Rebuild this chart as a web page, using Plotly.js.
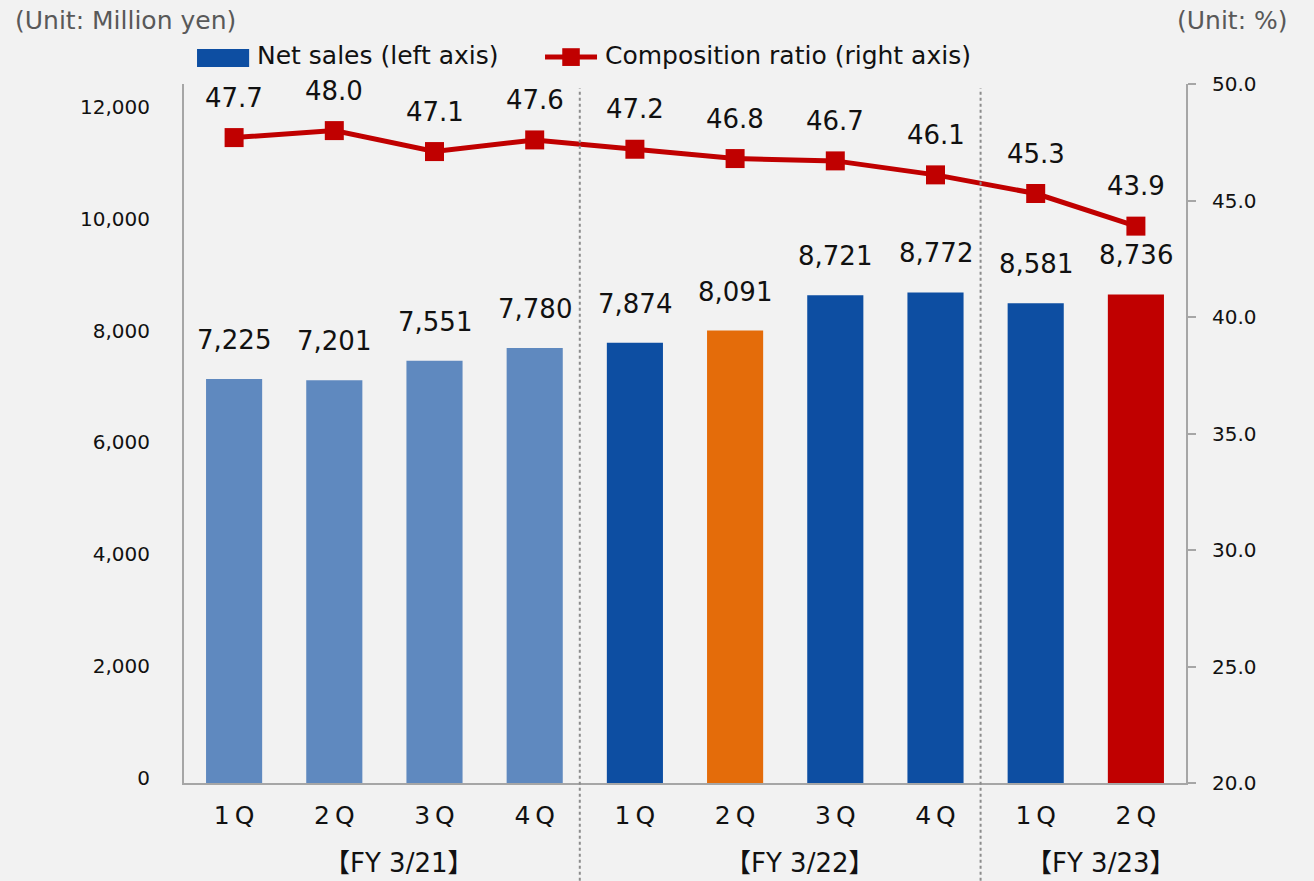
<!DOCTYPE html>
<html>
<head>
<meta charset="utf-8">
<script src="https://cdn.plot.ly/plotly-3.0.1.min.js"></script>
<style>
  html, body { margin: 0; padding: 0; background: #f2f2f2; }
  #chart { width: 1314px; height: 881px; }
</style>
</head>
<body>
<div id="chart"></div>
<script>
// ---- Data ----
const quarters = ['1Q', '2Q', '3Q', '4Q', '1Q', '2Q', '3Q', '4Q', '1Q', '2Q'];
const fiscalYearOfQuarter = [0, 0, 0, 0, 1, 1, 1, 1, 2, 2];
const fiscalYears = ['【FY 3/21】', '【FY 3/22】', '【FY 3/23】'];
const netSales = [7225, 7201, 7551, 7780, 7874, 8091, 8721, 8772, 8581, 8736];
const compositionRatio = [47.7, 48.0, 47.1, 47.6, 47.2, 46.8, 46.7, 46.1, 45.3, 43.9];
const barColors = ['#5f89bf', '#5f89bf', '#5f89bf', '#5f89bf',
                   '#0d4ea2', '#e46c0a', '#0d4ea2', '#0d4ea2',
                   '#0d4ea2', '#c00000'];
const leftTicks = [0, 2000, 4000, 6000, 8000, 10000, 12000];
const rightTicks = [20, 25, 30, 35, 40, 45, 50];

// ---- Build ----
const xs = quarters.map((_, i) => i);
const FONT = 'DejaVu Sans, "Noto Sans CJK JP", sans-serif';

const bars = {
  type: 'bar', x: xs, y: netSales, width: 0.56,
  marker: { color: barColors, line: { width: 0 } },
  hoverinfo: 'skip', showlegend: false, yaxis: 'y'
};
const line = {
  type: 'scatter', mode: 'lines+markers', x: xs, y: compositionRatio, yaxis: 'y2',
  line: { color: '#c00000', width: 5 },
  marker: { symbol: 'square', size: 19, color: '#c00000' },
  hoverinfo: 'skip', showlegend: false
};

const annotations = [];
netSales.forEach((v, i) => annotations.push({
  x: i, y: v, xref: 'x', yref: 'y', text: v.toLocaleString('en-US'),
  showarrow: false, yanchor: 'middle', yshift: 39,
  font: { family: FONT, size: 26, color: '#111' }
}));
compositionRatio.forEach((v, i) => annotations.push({
  x: i, y: v, xref: 'x', yref: 'y2', text: v.toFixed(1),
  showarrow: false, yanchor: 'middle', yshift: 40,
  font: { family: FONT, size: 26, color: '#111' }
}));
// fiscal-year group labels
const groupCenters = fiscalYears.map((_, g) => {
  const idx = xs.filter(i => fiscalYearOfQuarter[i] === g);
  return (idx[0] + idx[idx.length - 1]) / 2;
});
fiscalYears.forEach((fy, g) => annotations.push({
  x: groupCenters[g] + 0.15, xref: 'x', y: -0.1145, yref: 'paper',
  text: fy, showarrow: false, yanchor: 'middle', xanchor: 'center',
  font: { family: FONT, size: 26, color: '#111' }
}));
// unit labels
annotations.push({
  x: -0.171, xref: 'paper', y: 1.115, yref: 'paper', xanchor: 'left', yanchor: 'top',
  text: '(Unit: Million yen)', showarrow: false,
  font: { family: FONT, size: 25, color: '#595959' }
});
annotations.push({
  x: 1.104, xref: 'paper', y: 1.115, yref: 'paper', xanchor: 'right', yanchor: 'top',
  text: '(Unit: %)', showarrow: false,
  font: { family: FONT, size: 25, color: '#595959' }
});
// legend texts
annotations.push({
  x: 0.0709, xref: 'paper', y: 1.041, yref: 'paper', xanchor: 'left', yanchor: 'middle',
  text: 'Net sales (left axis)', showarrow: false,
  font: { family: FONT, size: 25, color: '#111' }
});
annotations.push({
  x: 0.4182, xref: 'paper', y: 1.041, yref: 'paper', xanchor: 'left', yanchor: 'middle',
  text: 'Composition ratio (right axis)', showarrow: false,
  font: { family: FONT, size: 25, color: '#111' }
});

const shapes = [];
// group separators (between fiscal years)
for (let i = 1; i < xs.length; i++) {
  if (fiscalYearOfQuarter[i] !== fiscalYearOfQuarter[i - 1]) {
    shapes.push({
      type: 'line', xref: 'x', yref: 'paper', x0: i - 0.55, x1: i - 0.55,
      y0: -0.14, y1: 0.994, line: { color: '#8c8c8c', width: 2, dash: 'dot' }
    });
  }
}
// legend symbols
shapes.push({ type: 'rect', xref: 'paper', yref: 'paper', x0: 0.013, x1: 0.065, y0: 1.0243, y1: 1.050,
  fillcolor: '#0d4ea2', line: { width: 0 } });
shapes.push({ type: 'line', xref: 'paper', yref: 'paper', x0: 0.3603, x1: 0.4122, y0: 1.0385, y1: 1.0385,
  line: { color: '#c00000', width: 5 } });
shapes.push({ type: 'rect', xref: 'paper', yref: 'paper', x0: 0.3775, x1: 0.3950, y0: 1.0258, y1: 1.0512,
  fillcolor: '#c00000', line: { width: 0 } });

const layout = {
  width: 1314, height: 881,
  margin: { l: 184, r: 128, t: 84, b: 98, pad: 0 },
  paper_bgcolor: '#f2f2f2', plot_bgcolor: '#f2f2f2',
  font: { family: FONT, color: '#111' },
  showlegend: false,
  bargap: 0.44,
  xaxis: {
    range: [-0.5, 9.5], tickvals: xs, ticktext: quarters.map(q => q.replace('Q', '\u2009Q')),
    showgrid: false, zeroline: false, showline: true, linecolor: '#a6a6a6', linewidth: 2,
    ticks: 'outside', ticklen: 9, tickcolor: 'rgba(0,0,0,0)',
    tickfont: { family: FONT, size: 25, color: '#111' }, fixedrange: true
  },
  yaxis: {
    range: [0, 12500], tickvals: leftTicks, ticktext: leftTicks.map(v => v.toLocaleString('en-US')),
    showgrid: false, zeroline: false, showline: true, linecolor: '#a6a6a6', linewidth: 2,
    ticks: 'outside', ticklen: 28, tickcolor: 'rgba(0,0,0,0)', ticklabelshift: -5,
    tickfont: { family: FONT, size: 20, color: '#111' }, fixedrange: true
  },
  yaxis2: {
    overlaying: 'y', side: 'right', range: [20, 50], tickvals: rightTicks,
    ticktext: rightTicks.map(v => v.toFixed(1)),
    showgrid: false, zeroline: false, showline: true, linecolor: '#a6a6a6', linewidth: 2,
    ticks: 'outside', ticklen: 8, tickwidth: 2, tickcolor: '#a6a6a6', ticklabelstandoff: 12,
    tickfont: { family: FONT, size: 20, color: '#111' }, fixedrange: true
  },
  annotations: annotations,
  shapes: shapes
};

Plotly.newPlot('chart', [bars, line], layout, { staticPlot: true, displayModeBar: false });
</script>
</body>
</html>
